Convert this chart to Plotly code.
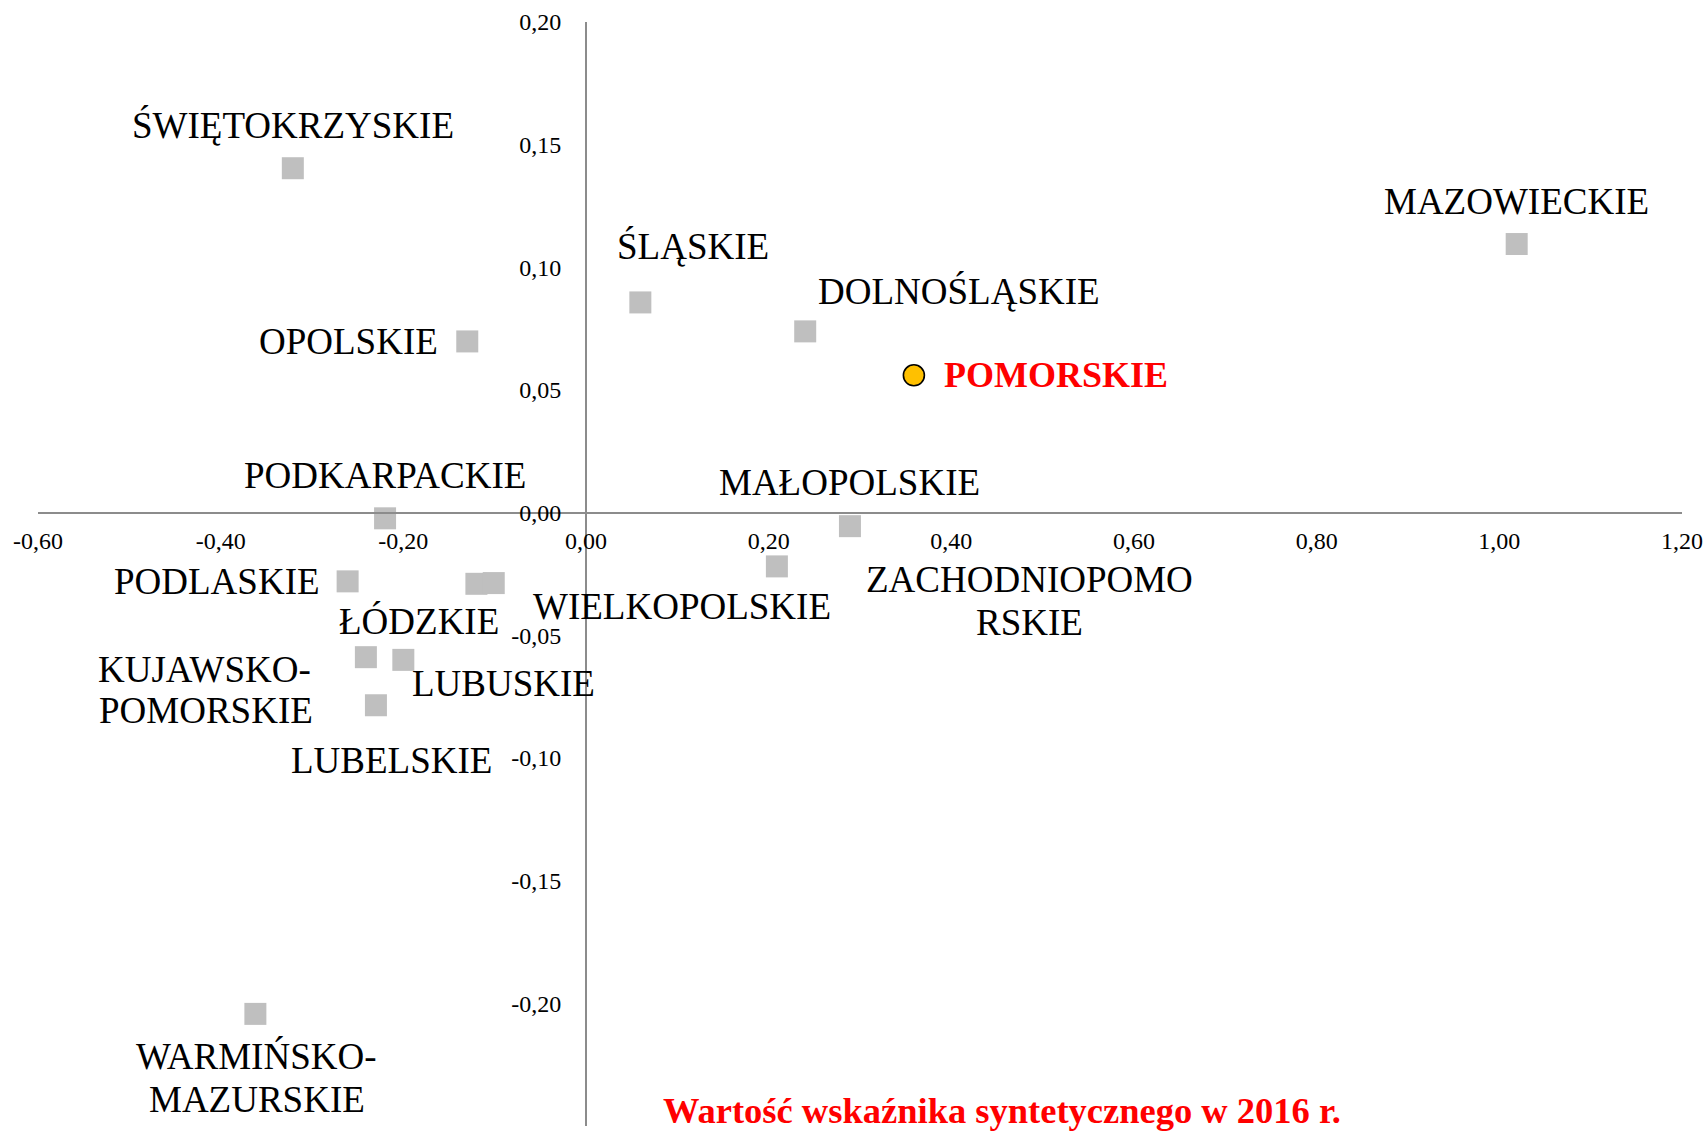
import plotly.graph_objects as go

# ---- data ----
regions = ["ŚWIĘTOKRZYSKIE", "MAZOWIECKIE", "ŚLĄSKIE", "DOLNOŚLĄSKIE", "OPOLSKIE",
           "PODKARPACKIE", "MAŁOPOLSKIE", "ZACHODNIOPOMORSKIE", "PODLASKIE", "ŁÓDZKIE",
           "WIELKOPOLSKIE", "KUJAWSKO-POMORSKIE", "LUBUSKIE", "LUBELSKIE", "WARMIŃSKO-MAZURSKIE"]
x_vals = [-0.321, 1.019, 0.0595, 0.240, -0.130,
          -0.220, 0.289, 0.209, -0.261, -0.120,
          -0.101, -0.241, -0.200, -0.230, -0.362]
y_vals = [0.1404, 0.1095, 0.0857, 0.0739, 0.0698,
          -0.0023, -0.0055, -0.0219, -0.0280, -0.0290,
          -0.0287, -0.0589, -0.0600, -0.0785, -0.2043]

highlight_region = ["POMORSKIE"]
highlight_x = [0.359]
highlight_y = [0.056]

x_ticks = [-0.6, -0.4, -0.2, 0.0, 0.2, 0.4, 0.6, 0.8, 1.0, 1.2]
x_tick_labels = ["-0,60", "-0,40", "-0,20", "0,00", "0,20", "0,40", "0,60", "0,80", "1,00", "1,20"]
y_ticks = [-0.25, -0.20, -0.15, -0.10, -0.05, 0.0, 0.05, 0.10, 0.15, 0.20]
y_tick_labels = ["-0,25", "-0,20", "-0,15", "-0,10", "-0,05", "0,00", "0,05", "0,10", "0,15", "0,20"]
x_range = [-0.6, 1.2]
y_range = [-0.25, 0.20]

chart_title = "Wartość wskaźnika syntetycznego w 2016 r."

# ---- label layout (text lines + pixel offsets from marker centre) ----
label_lines = {
    "ZACHODNIOPOMORSKIE": ["ZACHODNIOPOMO", "RSKIE"],
    "KUJAWSKO-POMORSKIE": ["KUJAWSKO-", "POMORSKIE"],
    "WARMIŃSKO-MAZURSKIE": ["WARMIŃSKO-", "MAZURSKIE"],
}
label_offsets = {
    "ŚWIĘTOKRZYSKIE": [(0, -43)],
    "MAZOWIECKIE": [(0, -43)],
    "ŚLĄSKIE": [(53, -56)],
    "DOLNOŚLĄSKIE": [(154, -40)],
    "OPOLSKIE": [(-119, 0)],
    "PODKARPACKIE": [(0, -43)],
    "MAŁOPOLSKIE": [(0, -44)],
    "ZACHODNIOPOMORSKIE": [(253, 13), (253, 56)],
    "PODLASKIE": [(-131, 0)],
    "ŁÓDZKIE": [(-57, 38)],
    "WIELKOPOLSKIE": [(188, 23)],
    "KUJAWSKO-POMORSKIE": [(-161, 12), (-160, 53)],
    "LUBUSKIE": [(100, 24)],
    "LUBELSKIE": [(16, 55)],
    "WARMIŃSKO-MAZURSKIE": [(1, 43), (2, 86)],
    "POMORSKIE": [(142, 0)],
}

FONT = "Liberation Serif, Times New Roman, serif"
AXIS_COLOR = "#8C8C8C"

fig = go.Figure()
fig.add_trace(go.Scatter(
    x=x_vals, y=y_vals, mode="markers", text=regions, hoverinfo="text",
    marker=dict(symbol="square", size=22, color="#BFBFBF", line=dict(width=0)),
    showlegend=False,
))
fig.add_trace(go.Scatter(
    x=highlight_x, y=highlight_y, mode="markers", text=highlight_region, hoverinfo="text",
    marker=dict(symbol="circle", size=21, color="#FFC000", line=dict(width=1.6, color="#000000")),
    showlegend=False,
))

annotations = []
for name, xv, yv in zip(regions, x_vals, y_vals):
    lines = label_lines.get(name, [name])
    for line, (dx, dy) in zip(lines, label_offsets[name]):
        annotations.append(dict(
            x=xv, y=yv, xref="x", yref="y", text=line, showarrow=False,
            xshift=dx, yshift=-dy, xanchor="center", yanchor="middle",
            font=dict(family=FONT, size=37, color="#000000"),
        ))
for name, xv, yv in zip(highlight_region, highlight_x, highlight_y):
    for line, (dx, dy) in zip([name], label_offsets[name]):
        annotations.append(dict(
            x=xv, y=yv, xref="x", yref="y", text="<b>" + line + "</b>", showarrow=False,
            xshift=dx, yshift=-dy, xanchor="center", yanchor="middle",
            font=dict(family=FONT, size=36, color="#FF0000"),
        ))
annotations.append(dict(
    x=0.5864, y=0.014, xref="paper", yref="paper", text="<b>" + chart_title + "</b>",
    showarrow=False, xanchor="center", yanchor="middle",
    font=dict(family=FONT, size=36.5, color="#FF0000"),
))

x_pos = (0 - y_range[0]) / (y_range[1] - y_range[0])
y_pos = (0 - x_range[0]) / (x_range[1] - x_range[0])

fig.update_layout(
    width=1705, height=1138,
    margin=dict(l=38, r=23, t=22, b=12, pad=0, autoexpand=False),
    paper_bgcolor="white", plot_bgcolor="white",
    font=dict(family=FONT, color="#000000"),
    annotations=annotations,
    xaxis=dict(
        range=x_range, tickvals=x_ticks, ticktext=x_tick_labels,
        anchor="free", position=x_pos, automargin=False,
        showline=True, linecolor=AXIS_COLOR, linewidth=2,
        showgrid=False, zeroline=False, ticks="",
        ticklabelstandoff=7,
        tickfont=dict(family=FONT, size=24, color="#000000"),
    ),
    yaxis=dict(
        range=y_range, tickvals=y_ticks, ticktext=y_tick_labels,
        anchor="free", position=y_pos, automargin=False,
        showline=True, linecolor=AXIS_COLOR, linewidth=2,
        showgrid=False, zeroline=False, ticks="",
        ticklabelstandoff=19,
        tickfont=dict(family=FONT, size=24, color="#000000"),
    ),
)

fig.write_html("out.html", config={"displayModeBar": False},
               post_script="document.body.style.margin='0';")
